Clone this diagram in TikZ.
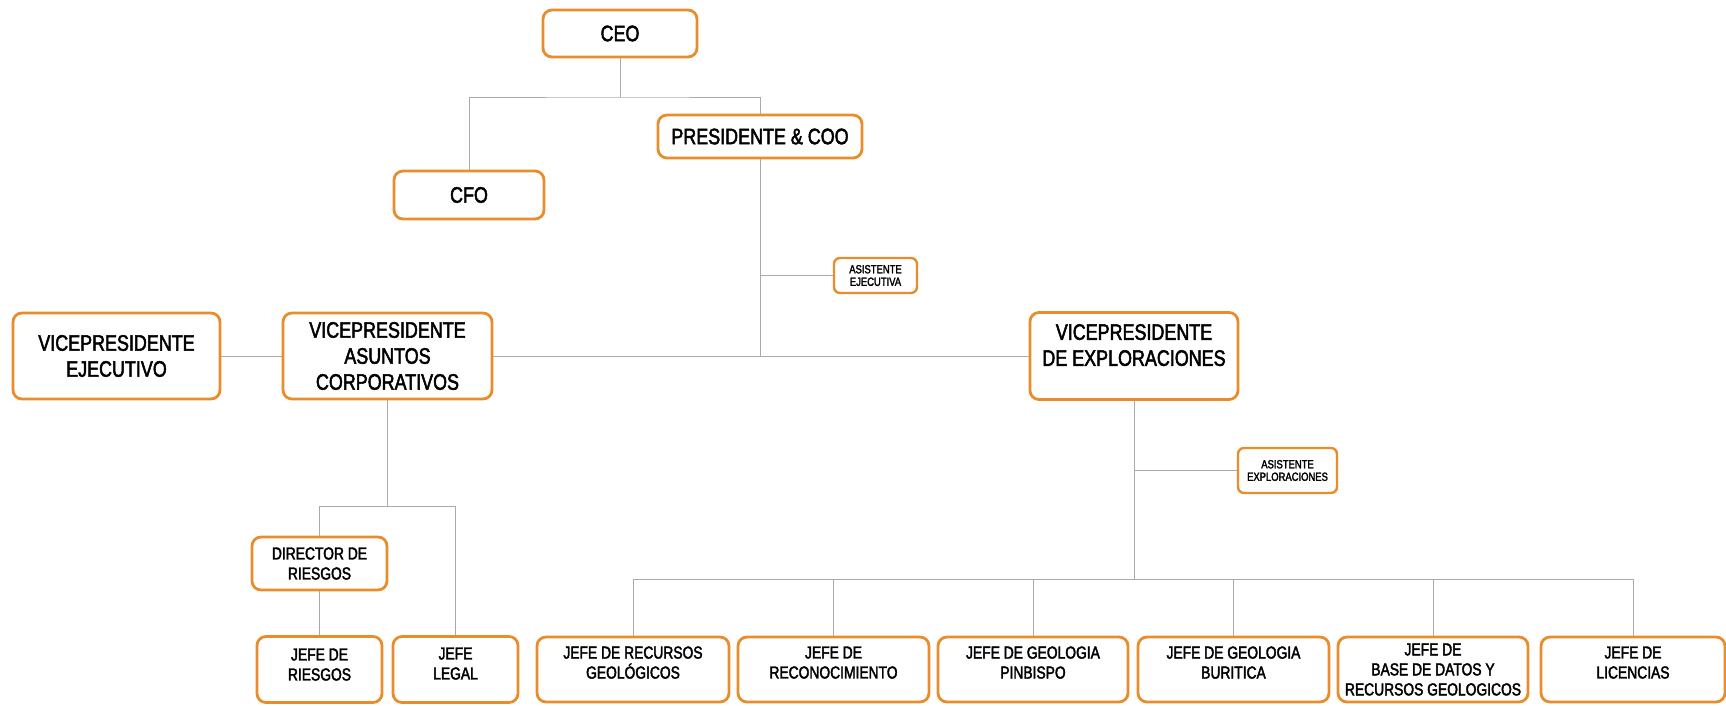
\documentclass[tikz,border=0pt]{standalone}
\usepackage{fontspec}
\setmainfont{Liberation Sans}[FakeStretch=0.80, FakeBold=2.2]
\definecolor{boxorange}{RGB}{232,140,44}
\definecolor{linegray}{RGB}{170,170,170}
\begin{document}
\begin{tikzpicture}[x=1pt,y=-1pt,
  box/.style={draw=boxorange, line width=2.8pt, rounded corners=9pt, fill=white,
    align=center, inner sep=0pt, text=black},
  big/.style={box, font=\fontsize{22.4}{26}\selectfont},
  mid/.style={box, font=\fontsize{17.3}{20}\selectfont},
  tiny/.style={box, rounded corners=6pt, line width=2.4pt, font=\fontsize{11.8}{12.5}\selectfont},
  conn/.style={draw=linegray, line width=1pt}]
\useasboundingbox (0,0) rectangle (1726,705);
% nodes
\node[big, minimum width=154pt, minimum height=47pt] (ceo) at (620,33.5) {CEO};
\node[big, minimum width=204pt, minimum height=43pt] (pres) at (760,136.5) {PRESIDENTE \& COO};
\node[big, minimum width=150pt, minimum height=48pt] (cfo) at (469,195) {CFO};
\node[tiny, minimum width=83pt, minimum height=35pt] (asej) at (875.5,275.5) {ASISTENTE\\EJECUTIVA};
\node[big, minimum width=207pt, minimum height=86pt] (vpe) at (116.5,356) {VICEPRESIDENTE\\EJECUTIVO};
\node[big, minimum width=209pt, minimum height=86pt] (vpa) at (387.5,356) {VICEPRESIDENTE\\ASUNTOS\\CORPORATIVOS};
\node[big, minimum width=208pt, minimum height=87pt, text depth=22pt] (vpx) at (1134,356) {VICEPRESIDENTE\\DE EXPLORACIONES};
\node[tiny, minimum width=99pt, minimum height=45pt] (asex) at (1287.5,470.5) {ASISTENTE\\EXPLORACIONES};
\node[mid, minimum width=135pt, minimum height=53pt] (dir) at (319.5,563.5) {DIRECTOR DE\\RIESGOS};
\node[mid, minimum width=125pt, minimum height=66pt, text depth=10pt] (jr) at (319.5,669.5) {JEFE DE\\RIESGOS};
\node[mid, minimum width=125pt, minimum height=66pt, text depth=12pt] (jl) at (455.5,669.5) {JEFE\\LEGAL};
\node[mid, minimum width=192pt, minimum height=65pt, text depth=14pt] (b1) at (633,669.5) {JEFE DE RECURSOS\\GEOLÓGICOS};
\node[mid, minimum width=191pt, minimum height=65pt, text depth=14pt] (b2) at (833.5,669.5) {JEFE DE\\RECONOCIMIENTO};
\node[mid, minimum width=190pt, minimum height=65pt, text depth=14pt] (b3) at (1033,669.5) {JEFE DE GEOLOGIA\\PINBISPO};
\node[mid, minimum width=191pt, minimum height=65pt, text depth=14pt] (b4) at (1233.5,669.5) {JEFE DE GEOLOGIA\\BURITICA};
\node[mid, minimum width=190pt, minimum height=65pt] (b5) at (1433,669.5) {JEFE DE\\BASE DE DATOS Y\\RECURSOS GEOLOGICOS};
\node[mid, minimum width=184pt, minimum height=65pt, text depth=14pt] (b6) at (1633,669.5) {JEFE DE\\LICENCIAS};
% junction coordinates
\coordinate (j1) at (620,97);
\coordinate (j3) at (387.5,506);
\coordinate (j4) at (1134,579);
% connectors
\draw[conn] (ceo.south) -- (j1);
\draw[conn] (cfo.north) |- (j1) -| (pres.north);
\draw[conn] (pres.south) -- (pres.south |- vpa.east);
\draw[conn] (pres.south |- asej.west) -- (asej.west);
\draw[conn] (vpe.east) -- (vpa.west);
\draw[conn] (vpa.east) -- (vpx.west);
\draw[conn] (vpa.south) -- (j3);
\draw[conn] (dir.north) |- (j3) -| (jl.north);
\draw[conn] (dir.south) -- (jr.north);
\draw[conn] (vpx.south) -- (j4);
\draw[conn] (vpx.south |- asex.west) -- (asex.west);
\draw[conn] (b1.north) |- (j4) -| (b6.north);
\foreach \n in {b2,b3,b4,b5} \draw[conn] (\n.north) -- (\n.north |- j4);
\end{tikzpicture}
\end{document}
